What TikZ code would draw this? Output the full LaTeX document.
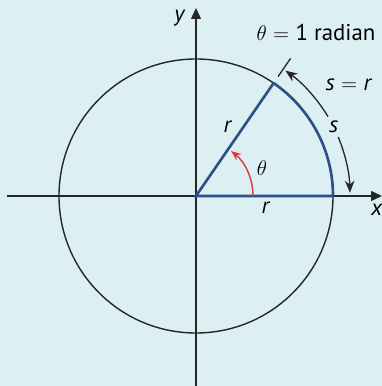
\documentclass[tikz,border=0pt]{standalone}
\usepackage{fontspec}
\setmainfont{PT Sans}
\usetikzlibrary{arrows.meta,positioning}
\definecolor{bgcyan}{RGB}{220,239,242}
\definecolor{radblue}{RGB}{45,80,135}
\definecolor{angred}{RGB}{215,60,60}
\begin{document}
\begin{tikzpicture}[
  x=0.2mm, y=0.2mm,
  axis/.style={-{Triangle[length=2.2mm, width=2mm]}, line width=0.75pt, draw=black!85},
  radial/.style={draw=radblue, line width=1.5pt},
  arcarrow/.style={-{Stealth[length=2.4mm, width=1.9mm]}, line width=0.75pt, draw=black!85},
  lbl/.style={font=\fontsize{13}{15}\selectfont, inner sep=1pt}
]
  \useasboundingbox[fill=bgcyan] (-196,-190) rectangle (186,196);

  \coordinate (O) at (0,0);
  \coordinate (xstart) at (-189,0);
  \coordinate (xend) at (186,0);
  \coordinate (ystart) at (0,-190);
  \coordinate (yend) at (0,188);
  \coordinate (A) at (137,0);
  \coordinate (P) at (55.5:137);

  \draw[axis] (xstart) -- (xend);
  \draw[axis] (ystart) -- (yend);
  \draw[line width=0.8pt, black!85] (O) circle (137);
  \draw[radial] (P) -- (O) -- (A) arc[start angle=0, end angle=55.5, radius=137];

  \coordinate (tickin) at (55.5:145);
  \coordinate (tickout) at (55.5:167);
  \draw[line width=0.75pt, black!85] (tickin) -- (tickout);

  \coordinate (supper) at (31:154);
  \coordinate (slower) at (22.5:154);
  \draw[arcarrow] (supper) arc[start angle=31, end angle=54.5, radius=154];
  \draw[arcarrow] (slower) arc[start angle=22.5, end angle=1.2, radius=154];

  \coordinate (redstart) at (57,0);
  \draw[-{Stealth[length=2mm, width=1.6mm]}, line width=0.8pt, angred] (redstart) arc[start angle=0, end angle=52, radius=57];

  \node[lbl] (xlabel) at (181,-14) {\textit{x}};
  \node[lbl] (ylabel) at (-16,178) {\textit{y}};
  \node[lbl] (title) at (120,163) {$\theta$\;$=$\;1 radian};
  \node[lbl] (sr) at (153,111) {\textit{s}\;$=$\;\textit{r}};
  \node[lbl] (slabel) at (26.7:154) {\textit{s}};
  \node[lbl] (rradius) at (32,69) {\textit{r}};
  \node[lbl] (raxis) at (70,-12) {\textit{r}};
  \node[lbl] (theta) at (66,28) {$\theta$};
\end{tikzpicture}
\end{document}
